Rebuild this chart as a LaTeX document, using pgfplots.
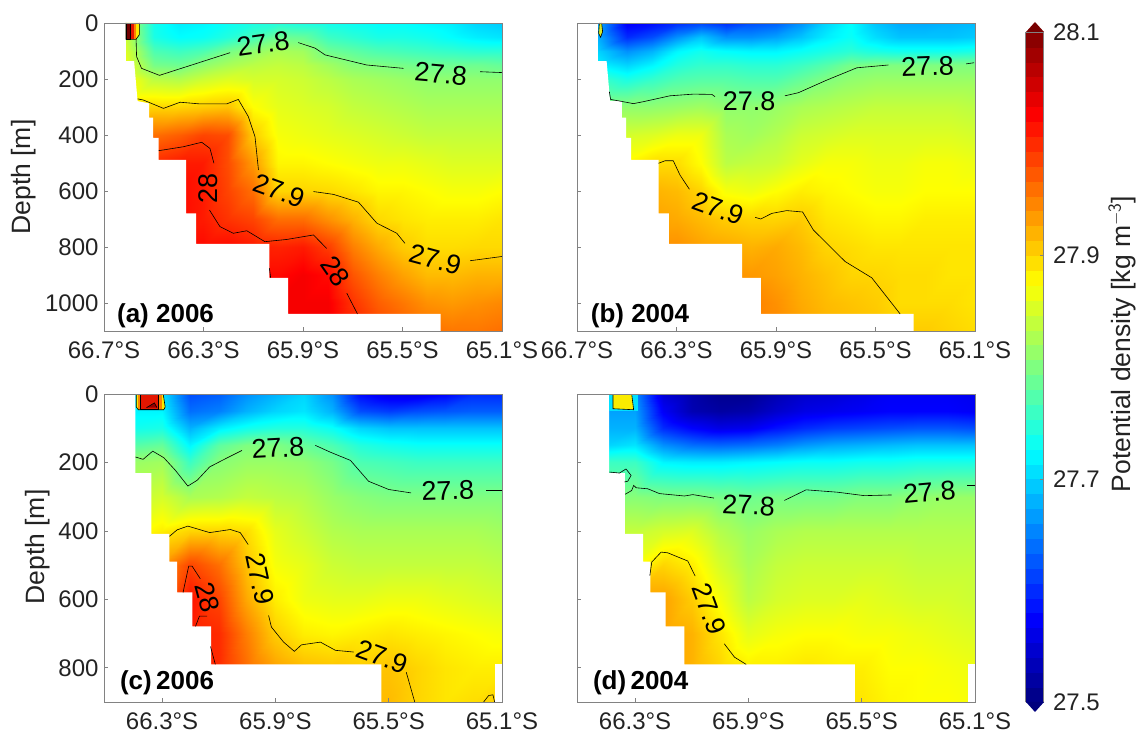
\documentclass[border=0pt]{standalone}
\usepackage{fontspec}
\setmainfont{Liberation Sans}
\usepackage{pgfplots}
\pgfplotsset{compat=1.18}
\definecolor{axgray}{RGB}{130,130,130}
\definecolor{tx}{RGB}{35,35,35}
\definecolor{ly}{RGB}{250,235,0}
\definecolor{lo}{RGB}{255,130,0}
\definecolor{lr}{RGB}{228,22,0}
\definecolor{ld}{RGB}{115,0,0}
\definecolor{ldc}{RGB}{150,0,0}
\definecolor{lg}{RGB}{215,235,40}
\definecolor{lc}{RGB}{0,225,255}
\definecolor{cbtop}{RGB}{120,0,0}
\definecolor{cbbot}{RGB}{0,0,125}
\newcommand{\fa}{\fontsize{24}{28}\selectfont}
\newcommand{\fl}{\fontsize{26.5}{30}\selectfont}
\newcommand{\fc}{\fontsize{27}{30}\selectfont}
\newcommand{\fb}{\fontsize{26}{28}\selectfont\bfseries}
\pgfplotsset{
 panel/.style={scale only axis,width=398pt,height=308pt,y dir=reverse,
  point meta min=27.5,point meta max=28.1,colormap/jet,axis on top,
  axis line style={axgray,line width=0.9pt},
  tick style={axgray,line width=0.7pt},major tick length=4pt,tick align=inside,
  xtick pos=lower,ytick pos=left,
  ticklabel style={font=\fa,text=tx},
  /pgf/number format/assume math mode=true,
  xticklabel style={yshift=-7pt},
  yticklabel style={xshift=-2pt}},
 top/.style={panel,xmin=-66.7,xmax=-65.1,ymin=0,ymax=1100,
  xtick={-66.7,-66.3,-65.9,-65.5,-65.1},
  xticklabels={66.7°S,66.3°S,65.9°S,65.5°S,65.1°S},
  ytick={0,200,400,600,800,1000}},
 bot/.style={panel,xmin=-66.505,xmax=-65.1,ymin=0,ymax=900,
  xtick={-66.3,-65.9,-65.5,-65.1},
  xticklabels={66.3°S,65.9°S,65.5°S,65.1°S},
  ytick={0,200,400,600,800}},
 field/.style={surf,shader=interp,point meta=explicit},
 mask/.style={fill=white,draw=none,forget plot},
 ct/.style={draw=black,line width=0.6pt,forget plot},
}
\begin{document}
\begin{tikzpicture}
\path[use as bounding box] (0,0) rectangle (1136pt,733pt);
% ---------- (a)
\begin{axis}[top,at={(104pt,402pt)},anchor=south west,yticklabels={0,200,400,600,800,1000}]
\addplot[field,mesh/ordering=y varies,mesh/rows=14,mesh/cols=16] table[row sep=\\,x=x,y=y,meta=z]{
x y z\\
-66.62 0 27.85\\-66.62 50 27.85\\-66.62 100 27.86\\-66.62 150 27.87\\-66.62 200 27.88\\-66.62 300 27.9\\-66.62 400 27.95\\-66.62 500 28\\-66.62 600 28\\-66.62 700 28\\-66.62 800 28\\-66.62 900 28\\-66.62 1000 28\\-66.62 1100 28\\
-66.5 0 27.735\\-66.5 50 27.74\\-66.5 100 27.77\\-66.5 150 27.795\\-66.5 200 27.835\\-66.5 300 27.9\\-66.5 400 27.96\\-66.5 500 28\\-66.5 600 28\\-66.5 700 28\\-66.5 800 28\\-66.5 900 28\\-66.5 1000 28\\-66.5 1100 28\\
-66.4 0 27.715\\-66.4 50 27.725\\-66.4 100 27.76\\-66.4 150 27.79\\-66.4 200 27.83\\-66.4 300 27.9\\-66.4 400 27.97\\-66.4 500 28.01\\-66.4 600 28.02\\-66.4 700 28.02\\-66.4 800 28.02\\-66.4 900 28.02\\-66.4 1000 28.02\\-66.4 1100 28.02\\
-66.3 0 27.72\\-66.3 50 27.73\\-66.3 100 27.77\\-66.3 150 27.81\\-66.3 200 27.845\\-66.3 300 27.905\\-66.3 400 27.985\\-66.3 500 28.01\\-66.3 600 28.01\\-66.3 700 28.01\\-66.3 800 28.02\\-66.3 900 28.02\\-66.3 1000 28.02\\-66.3 1100 28.02\\
-66.2 0 27.73\\-66.2 50 27.745\\-66.2 100 27.795\\-66.2 150 27.825\\-66.2 200 27.855\\-66.2 300 27.91\\-66.2 400 27.98\\-66.2 500 27.98\\-66.2 600 27.985\\-66.2 700 27.995\\-66.2 800 28.02\\-66.2 900 28.02\\-66.2 1000 28.02\\-66.2 1100 28.02\\
-66.1 0 27.74\\-66.1 50 27.765\\-66.1 100 27.81\\-66.1 150 27.835\\-66.1 200 27.85\\-66.1 300 27.875\\-66.1 400 27.905\\-66.1 500 27.935\\-66.1 600 27.96\\-66.1 700 27.985\\-66.1 800 28.01\\-66.1 900 28.02\\-66.1 1000 28.02\\-66.1 1100 28.02\\
-66 0 27.745\\-66 50 27.79\\-66 100 27.825\\-66 150 27.84\\-66 200 27.85\\-66 300 27.86\\-66 400 27.87\\-66 500 27.88\\-66 600 27.9\\-66 700 27.96\\-66 800 28.005\\-66 900 28.02\\-66 1000 28.03\\-66 1100 28.03\\
-65.9 0 27.74\\-65.9 50 27.785\\-65.9 100 27.82\\-65.9 150 27.835\\-65.9 200 27.845\\-65.9 300 27.855\\-65.9 400 27.865\\-65.9 500 27.88\\-65.9 600 27.9\\-65.9 700 27.96\\-65.9 800 28.01\\-65.9 900 28.03\\-65.9 1000 28.03\\-65.9 1100 28.03\\
-65.8 0 27.735\\-65.8 50 27.76\\-65.8 100 27.79\\-65.8 150 27.82\\-65.8 200 27.835\\-65.8 300 27.85\\-65.8 400 27.86\\-65.8 500 27.875\\-65.8 600 27.897\\-65.8 700 27.94\\-65.8 800 27.99\\-65.8 900 28.02\\-65.8 1000 28.03\\-65.8 1100 28.03\\
-65.7 0 27.73\\-65.7 50 27.75\\-65.7 100 27.78\\-65.7 150 27.805\\-65.7 200 27.825\\-65.7 300 27.84\\-65.7 400 27.855\\-65.7 500 27.87\\-65.7 600 27.89\\-65.7 700 27.92\\-65.7 800 27.95\\-65.7 900 27.975\\-65.7 1000 27.995\\-65.7 1100 28.01\\
-65.6 0 27.725\\-65.6 50 27.74\\-65.6 100 27.77\\-65.6 150 27.8\\-65.6 200 27.82\\-65.6 300 27.835\\-65.6 400 27.85\\-65.6 500 27.865\\-65.6 600 27.88\\-65.6 700 27.897\\-65.6 800 27.925\\-65.6 900 27.95\\-65.6 1000 27.97\\-65.6 1100 27.985\\
-65.5 0 27.725\\-65.5 50 27.74\\-65.5 100 27.765\\-65.5 150 27.795\\-65.5 200 27.815\\-65.5 300 27.83\\-65.5 400 27.845\\-65.5 500 27.865\\-65.5 600 27.88\\-65.5 700 27.89\\-65.5 800 27.905\\-65.5 900 27.93\\-65.5 1000 27.955\\-65.5 1100 27.97\\
-65.4 0 27.72\\-65.4 50 27.735\\-65.4 100 27.76\\-65.4 150 27.79\\-65.4 200 27.81\\-65.4 300 27.825\\-65.4 400 27.84\\-65.4 500 27.86\\-65.4 600 27.875\\-65.4 700 27.885\\-65.4 800 27.895\\-65.4 900 27.915\\-65.4 1000 27.94\\-65.4 1100 27.96\\
-65.3 0 27.715\\-65.3 50 27.725\\-65.3 100 27.755\\-65.3 150 27.79\\-65.3 200 27.81\\-65.3 300 27.825\\-65.3 400 27.84\\-65.3 500 27.855\\-65.3 600 27.87\\-65.3 700 27.885\\-65.3 800 27.895\\-65.3 900 27.915\\-65.3 1000 27.935\\-65.3 1100 27.955\\
-65.2 0 27.7\\-65.2 50 27.715\\-65.2 100 27.75\\-65.2 150 27.79\\-65.2 200 27.81\\-65.2 300 27.825\\-65.2 400 27.84\\-65.2 500 27.855\\-65.2 600 27.87\\-65.2 700 27.885\\-65.2 800 27.897\\-65.2 900 27.92\\-65.2 1000 27.94\\-65.2 1100 27.955\\
-65.1 0 27.695\\-65.1 50 27.71\\-65.1 100 27.75\\-65.1 150 27.785\\-65.1 200 27.81\\-65.1 300 27.825\\-65.1 400 27.84\\-65.1 500 27.855\\-65.1 600 27.875\\-65.1 700 27.89\\-65.1 800 27.897\\-65.1 900 27.92\\-65.1 1000 27.945\\-65.1 1100 27.96\\
};
\addplot[mask] coordinates {(-66.7,0)(-66.612,0)(-66.612,136)(-66.579,136)(-66.565,279)(-66.519,287)(-66.519,338)(-66.503,338)(-66.503,410)(-66.48,410)(-66.48,489)(-66.37,489)(-66.37,680)(-66.33,680)(-66.33,789)(-66.035,789)(-66.035,910)(-65.96,910)(-65.96,1039)(-65.347,1039)(-65.347,1100)(-66.7,1100)};
\addplot[fill=ly,ct] coordinates {(-66.612,0)(-66.612,58)(-66.571,58)(-66.558,42)(-66.558,0)};
\addplot[fill=lo,draw=none,forget plot] coordinates {(-66.612,0)(-66.612,58)(-66.571,58)(-66.571,0)};
\addplot[fill=lr,draw=none,forget plot] coordinates {(-66.612,0)(-66.612,58)(-66.579,58)(-66.579,0)};
\addplot[fill=ld,ct] coordinates {(-66.612,0)(-66.612,58)(-66.593,58)(-66.593,0)};
\addplot[ct] coordinates {(-66.571,58)(-66.569,120)(-66.549,162)(-66.477,187)(-66.193,106)};
\addplot[ct] coordinates {(-65.919,70)(-65.851,90)(-65.811,114)(-65.644,150)(-65.496,162)};
\addplot[ct] coordinates {(-65.188,174)(-65.101,177)};
\addplot[ct] coordinates {(-66.565,271)(-66.542,275)(-66.461,305)(-66.394,283)(-66.314,289)(-66.207,289)(-66.16,273)(-66.12,334)(-66.093,406)(-66.079,525)};
\addplot[ct] coordinates {(-65.858,602)(-65.778,612)(-65.677,640)(-65.603,715)(-65.523,751)(-65.49,787)};
\addplot[ct] coordinates {(-65.228,849)(-65.101,834)};
\addplot[ct] coordinates {(-66.48,456)(-66.381,442)(-66.307,426)(-66.274,448)(-66.258,501)};
\addplot[ct] coordinates {(-66.276,668)(-66.234,727)(-66.18,751)(-66.126,742)(-66.053,781)(-65.965,773)(-65.858,757)(-65.805,805)};
\addplot[ct] coordinates {(-65.724,965)(-65.681,1039)};
\addplot[ct] coordinates {(-66.035,876)(-66.03,910)};
\node[font=\fc,rotate=8] at (axis cs:-66.06,73) {27.8};
\node[font=\fc,rotate=-5] at (axis cs:-65.346,182) {27.8};
\node[font=\fc,rotate=-20] at (axis cs:-65.995,599) {27.9};
\node[font=\fc,rotate=-15] at (axis cs:-65.369,844) {27.9};
\node[font=\fc,rotate=90] at (axis cs:-66.28,590) {28};
\node[font=\fc,rotate=-55] at (axis cs:-65.77,888) {28};
\node[font=\fb,anchor=west,inner sep=0pt] at (axis cs:-66.648,1046) {(a) 2006};
\end{axis}
% ---------- (b)
\begin{axis}[top,at={(577pt,402pt)},anchor=south west,yticklabels={}]
\addplot[field,mesh/rows=14,mesh/cols=16] table[row sep=\\,x=x,y=y,meta=z]{
x y z\\
-66.62 0 27.68\\-66.5 0 27.57\\-66.4 0 27.58\\-66.3 0 27.6\\-66.2 0 27.615\\-66.1 0 27.6\\-66 0 27.62\\-65.9 0 27.63\\-65.8 0 27.66\\-65.7 0 27.7\\-65.6 0 27.725\\-65.5 0 27.69\\-65.4 0 27.675\\-65.3 0 27.675\\-65.2 0 27.68\\-65.1 0 27.685\\
-66.62 50 27.68\\-66.5 50 27.6\\-66.4 50 27.62\\-66.3 50 27.66\\-66.2 50 27.69\\-66.1 50 27.66\\-66 50 27.66\\-65.9 50 27.67\\-65.8 50 27.69\\-65.7 50 27.715\\-65.6 50 27.73\\-65.5 50 27.705\\-65.4 50 27.69\\-65.3 50 27.69\\-65.2 50 27.69\\-65.1 50 27.695\\
-66.62 100 27.7\\-66.5 100 27.66\\-66.4 100 27.68\\-66.3 100 27.72\\-66.2 100 27.735\\-66.1 100 27.725\\-66 100 27.72\\-65.9 100 27.72\\-65.8 100 27.73\\-65.7 100 27.74\\-65.6 100 27.75\\-65.5 100 27.74\\-65.4 100 27.735\\-65.3 100 27.735\\-65.2 100 27.735\\-65.1 100 27.74\\
-66.62 150 27.72\\-66.5 150 27.7\\-66.4 150 27.72\\-66.3 150 27.745\\-66.2 150 27.755\\-66.1 150 27.755\\-66 150 27.75\\-65.9 150 27.75\\-65.8 150 27.76\\-65.7 150 27.775\\-65.6 150 27.795\\-65.5 150 27.8\\-65.4 150 27.8\\-65.3 150 27.8\\-65.2 150 27.8\\-65.1 150 27.8\\
-66.62 200 27.76\\-66.5 200 27.74\\-66.4 200 27.755\\-66.3 200 27.77\\-66.2 200 27.775\\-66.1 200 27.775\\-66 200 27.77\\-65.9 200 27.77\\-65.8 200 27.785\\-65.7 200 27.8\\-65.6 200 27.81\\-65.5 200 27.815\\-65.4 200 27.815\\-65.3 200 27.815\\-65.2 200 27.815\\-65.1 200 27.815\\
-66.62 300 27.81\\-66.5 300 27.81\\-66.4 300 27.81\\-66.3 300 27.815\\-66.2 300 27.82\\-66.1 300 27.81\\-66 300 27.81\\-65.9 300 27.815\\-65.8 300 27.825\\-65.7 300 27.83\\-65.6 300 27.835\\-65.5 300 27.84\\-65.4 300 27.84\\-65.3 300 27.84\\-65.2 300 27.84\\-65.1 300 27.835\\
-66.62 400 27.85\\-66.5 400 27.85\\-66.4 400 27.855\\-66.3 400 27.865\\-66.2 400 27.865\\-66.1 400 27.825\\-66 400 27.82\\-65.9 400 27.83\\-65.8 400 27.845\\-65.7 400 27.85\\-65.6 400 27.855\\-65.5 400 27.855\\-65.4 400 27.855\\-65.3 400 27.855\\-65.2 400 27.855\\-65.1 400 27.85\\
-66.62 500 27.88\\-66.5 500 27.88\\-66.4 500 27.895\\-66.3 500 27.895\\-66.2 500 27.875\\-66.1 500 27.835\\-66 500 27.84\\-65.9 500 27.845\\-65.8 500 27.86\\-65.7 500 27.87\\-65.6 500 27.87\\-65.5 500 27.865\\-65.4 500 27.865\\-65.3 500 27.87\\-65.2 500 27.87\\-65.1 500 27.865\\
-66.62 600 27.92\\-66.5 600 27.92\\-66.4 600 27.92\\-66.3 600 27.915\\-66.2 600 27.9\\-66.1 600 27.87\\-66 600 27.865\\-65.9 600 27.875\\-65.8 600 27.885\\-65.7 600 27.88\\-65.6 600 27.875\\-65.5 600 27.87\\-65.4 600 27.87\\-65.3 600 27.875\\-65.2 600 27.875\\-65.1 600 27.875\\
-66.62 700 27.93\\-66.5 700 27.93\\-66.4 700 27.93\\-66.3 700 27.925\\-66.2 700 27.915\\-66.1 700 27.905\\-66 700 27.9\\-65.9 700 27.9\\-65.8 700 27.905\\-65.7 700 27.89\\-65.6 700 27.885\\-65.5 700 27.88\\-65.4 700 27.88\\-65.3 700 27.885\\-65.2 700 27.885\\-65.1 700 27.885\\
-66.62 800 27.94\\-66.5 800 27.94\\-66.4 800 27.94\\-66.3 800 27.94\\-66.2 800 27.93\\-66.1 800 27.925\\-66 800 27.92\\-65.9 800 27.925\\-65.8 800 27.915\\-65.7 800 27.9\\-65.6 800 27.895\\-65.5 800 27.89\\-65.4 800 27.89\\-65.3 800 27.89\\-65.2 800 27.89\\-65.1 800 27.89\\
-66.62 900 27.94\\-66.5 900 27.94\\-66.4 900 27.94\\-66.3 900 27.94\\-66.2 900 27.94\\-66.1 900 27.94\\-66 900 27.935\\-65.9 900 27.93\\-65.8 900 27.92\\-65.7 900 27.91\\-65.6 900 27.9\\-65.5 900 27.899\\-65.4 900 27.895\\-65.3 900 27.895\\-65.2 900 27.89\\-65.1 900 27.89\\
-66.62 1000 27.95\\-66.5 1000 27.95\\-66.4 1000 27.95\\-66.3 1000 27.95\\-66.2 1000 27.95\\-66.1 1000 27.95\\-66 1000 27.95\\-65.9 1000 27.94\\-65.8 1000 27.925\\-65.7 1000 27.915\\-65.6 1000 27.91\\-65.5 1000 27.905\\-65.4 1000 27.895\\-65.3 1000 27.895\\-65.2 1000 27.895\\-65.1 1000 27.89\\
-66.62 1100 27.95\\-66.5 1100 27.95\\-66.4 1100 27.95\\-66.3 1100 27.95\\-66.2 1100 27.95\\-66.1 1100 27.95\\-66 1100 27.95\\-65.9 1100 27.945\\-65.8 1100 27.93\\-65.7 1100 27.92\\-65.6 1100 27.915\\-65.5 1100 27.91\\-65.4 1100 27.905\\-65.3 1100 27.905\\-65.2 1100 27.9\\-65.1 1100 27.895\\
};
\addplot[mask] coordinates {(-66.7,0)(-66.616,0)(-66.616,136)(-66.581,136)(-66.567,279)(-66.52,279)(-66.52,338)(-66.503,338)(-66.503,410)(-66.482,410)(-66.482,489)(-66.372,489)(-66.372,680)(-66.331,680)(-66.331,789)(-66.036,789)(-66.036,910)(-65.961,910)(-65.961,1039)(-65.347,1039)(-65.347,1100)(-66.7,1100)};
\addplot[fill=lg,ct] coordinates {(-66.61,0)(-66.613,37)(-66.605,51)(-66.597,31)(-66.601,0)};
\addplot[ct] coordinates {(-66.57,245)(-66.565,273)(-66.527,279)(-66.473,288)(-66.433,281)(-66.326,260)(-66.232,254)(-66.158,255)(-66.145,263)};
\addplot[ct] coordinates {(-65.864,260)(-65.81,249)(-65.696,204)(-65.575,160)(-65.448,150)};
\addplot[ct] coordinates {(-65.136,146)(-65.104,142)};
\addplot[ct] coordinates {(-66.372,501)(-66.346,492)(-66.313,492)(-66.286,543)(-66.248,594)};
\addplot[ct] coordinates {(-65.984,694)(-65.961,700)(-65.917,680)(-65.857,670)(-65.793,675)(-65.75,739)(-65.689,793)(-65.622,852)(-65.515,910)(-65.401,1039)};
\node[font=\fc] at (axis cs:-66.008,279) {27.8};
\node[font=\fc,rotate=2] at (axis cs:-65.291,154) {27.8};
\node[font=\fc,rotate=-20] at (axis cs:-66.132,662) {27.9};
\node[font=\fb,anchor=west,inner sep=0pt] at (axis cs:-66.645,1046) {(b) 2004};
\end{axis}
% ---------- (c)
\begin{axis}[bot,at={(104pt,31pt)},anchor=south west,yticklabels={0,200,400,600,800}]
\addplot[field,mesh/rows=12,mesh/cols=14] table[row sep=\\,x=x,y=y,meta=z]{
x y z\\
-66.4 0 27.72\\-66.3 0 27.71\\-66.2 0 27.62\\-66.1 0 27.63\\-66 0 27.66\\-65.9 0 27.68\\-65.8 0 27.7\\-65.7 0 27.66\\-65.6 0 27.58\\-65.5 0 27.56\\-65.4 0 27.56\\-65.3 0 27.575\\-65.2 0 27.6\\-65.1 0 27.6\\
-66.4 50 27.72\\-66.3 50 27.72\\-66.2 50 27.64\\-66.1 50 27.65\\-66 50 27.68\\-65.9 50 27.7\\-65.8 50 27.71\\-65.7 50 27.68\\-65.6 50 27.62\\-65.5 50 27.61\\-65.4 50 27.62\\-65.3 50 27.625\\-65.2 50 27.63\\-65.1 50 27.63\\
-66.4 100 27.735\\-66.3 100 27.74\\-66.2 100 27.68\\-66.1 100 27.715\\-66 100 27.735\\-65.9 100 27.745\\-65.8 100 27.745\\-65.7 100 27.73\\-65.6 100 27.7\\-65.5 100 27.69\\-65.4 100 27.69\\-65.3 100 27.69\\-65.2 100 27.69\\-65.1 100 27.69\\
-66.4 150 27.775\\-66.3 150 27.785\\-66.2 150 27.72\\-66.1 150 27.78\\-66 150 27.8\\-65.9 150 27.8\\-65.8 150 27.785\\-65.7 150 27.77\\-65.6 150 27.745\\-65.5 150 27.735\\-65.4 150 27.73\\-65.3 150 27.73\\-65.2 150 27.73\\-65.1 150 27.73\\
-66.4 200 27.815\\-66.3 200 27.82\\-66.2 200 27.76\\-66.1 200 27.805\\-66 200 27.815\\-65.9 200 27.815\\-65.8 200 27.81\\-65.7 200 27.795\\-65.6 200 27.77\\-65.5 200 27.765\\-65.4 200 27.76\\-65.3 200 27.76\\-65.2 200 27.76\\-65.1 200 27.76\\
-66.4 300 27.84\\-66.3 300 27.85\\-66.2 300 27.825\\-66.1 300 27.83\\-66 300 27.84\\-65.9 300 27.835\\-65.8 300 27.83\\-65.7 300 27.815\\-65.6 300 27.805\\-65.5 300 27.8\\-65.4 300 27.8\\-65.3 300 27.8\\-65.2 300 27.8\\-65.1 300 27.8\\
-66.4 400 27.87\\-66.3 400 27.885\\-66.2 400 27.9\\-66.1 400 27.9\\-66 400 27.895\\-65.9 400 27.86\\-65.8 400 27.845\\-65.7 400 27.83\\-65.6 400 27.825\\-65.5 400 27.825\\-65.4 400 27.825\\-65.3 400 27.825\\-65.2 400 27.825\\-65.1 400 27.82\\
-66.4 500 27.94\\-66.3 500 27.94\\-66.2 500 27.985\\-66.1 500 27.96\\-66 500 27.91\\-65.9 500 27.87\\-65.8 500 27.86\\-65.7 500 27.845\\-65.6 500 27.84\\-65.5 500 27.84\\-65.4 500 27.84\\-65.3 500 27.84\\-65.2 500 27.84\\-65.1 500 27.835\\
-66.4 600 27.96\\-66.3 600 27.96\\-66.2 600 28.015\\-66.1 600 27.985\\-66 600 27.925\\-65.9 600 27.885\\-65.8 600 27.865\\-65.7 600 27.86\\-65.6 600 27.86\\-65.5 600 27.865\\-65.4 600 27.865\\-65.3 600 27.86\\-65.2 600 27.855\\-65.1 600 27.85\\
-66.4 700 28\\-66.3 700 28\\-66.2 700 28.01\\-66.1 700 28\\-66 700 27.95\\-65.9 700 27.905\\-65.8 700 27.885\\-65.7 700 27.88\\-65.6 700 27.885\\-65.5 700 27.89\\-65.4 700 27.885\\-65.3 700 27.88\\-65.2 700 27.875\\-65.1 700 27.87\\
-66.4 800 28\\-66.3 800 28\\-66.2 800 28.01\\-66.1 800 28\\-66 800 27.96\\-65.9 800 27.93\\-65.8 800 27.915\\-65.7 800 27.91\\-65.6 800 27.905\\-65.5 800 27.91\\-65.4 800 27.9\\-65.3 800 27.89\\-65.2 800 27.885\\-65.1 800 27.885\\
-66.4 900 28\\-66.3 900 28\\-66.2 900 28\\-66.1 900 28\\-66 900 27.96\\-65.9 900 27.93\\-65.8 900 27.92\\-65.7 900 27.915\\-65.6 900 27.915\\-65.5 900 27.915\\-65.4 900 27.9\\-65.3 900 27.89\\-65.2 900 27.895\\-65.1 900 27.905\\
};
\addplot[mask] coordinates {(-66.505,0)(-66.394,0)(-66.394,231)(-66.338,231)(-66.338,409)(-66.274,409)(-66.274,490)(-66.247,490)(-66.247,580)(-66.193,580)(-66.193,679)(-66.127,679)(-66.127,790)(-65.526,790)(-65.526,900)(-66.505,900)};
\addplot[mask] coordinates {(-65.126,900)(-65.126,790)(-65.1,790)(-65.1,900)};
\addplot[fill=ly,ct] coordinates {(-66.391,0)(-66.391,38)(-66.384,46)(-66.294,46)(-66.289,38)(-66.296,0)};
\addplot[fill=lo,draw=none,forget plot] coordinates {(-66.386,0)(-66.386,44)(-66.301,44)(-66.301,0)};
\addplot[fill=lr,ct] coordinates {(-66.376,0)(-66.376,44)(-66.314,44)(-66.314,0)};
\addplot[fill=ldc,ct] coordinates {(-66.355,40)(-66.327,26)(-66.318,40)};
\addplot[ct] coordinates {(-66.394,184)(-66.367,191)(-66.333,167)(-66.294,186)(-66.253,223)(-66.209,269)(-66.176,252)(-66.132,213)(-66.076,189)(-66.018,165)};
\addplot[ct] coordinates {(-65.759,150)(-65.706,170)(-65.635,194)(-65.571,255)(-65.5,279)(-65.421,289)};
\addplot[ct] coordinates {(-65.155,280)(-65.1,280)};
\addplot[ct] coordinates {(-66.274,416)(-66.247,397)(-66.209,386)(-66.132,405)(-66.059,396)(-66.024,405)(-65.996,440)};
\addplot[ct] coordinates {(-65.924,647)(-65.914,681)(-65.871,725)(-65.833,752)(-65.808,733)(-65.741,725)(-65.688,749)(-65.624,754)};
\addplot[ct] coordinates {(-65.438,813)(-65.408,900)};
\addplot[ct] coordinates {(-65.165,900)(-65.147,881)(-65.132,879)(-65.126,900)};
\addplot[ct] coordinates {(-66.226,580)(-66.206,503)(-66.194,503)(-66.165,540)};
\addplot[ct] coordinates {(-66.182,679)(-66.168,649)(-66.141,649)};
\addplot[ct] coordinates {(-66.129,738)(-66.112,790)};
\node[font=\fc,rotate=3] at (axis cs:-65.891,158) {27.8};
\node[font=\fc,rotate=2] at (axis cs:-65.291,282) {27.8};
\node[font=\fc,rotate=-78] at (axis cs:-65.955,540) {27.9};
\node[font=\fc,rotate=-20] at (axis cs:-65.524,767) {27.9};
\node[font=\fc,rotate=-75] at (axis cs:-66.141,594) {28};
\node[font=\fb,anchor=west,inner sep=0pt] at (axis cs:-66.449,845) {(c)\,2006};
\end{axis}
% ---------- (d)
\begin{axis}[bot,at={(577pt,31pt)},anchor=south west,yticklabels={},
 colorbar sampled,
 colorbar style={samples=46,at={(parent axis.south east)},anchor=south west,xshift=42pt,
  width=18pt,height=670pt,ytick={27.5,27.7,27.9,28.1},yticklabels={27.5,27.7,27.9,28.1},
  ytick pos=right,yticklabel pos=right,
  axis line style={axgray,line width=0.5pt},tick style={axgray},major tick length=4pt,
  tick align=inside,
  yticklabel style={font=\fa,text=tx,xshift=6pt}}]
\addplot[field,mesh/rows=12,mesh/cols=14] table[row sep=\\,x=x,y=y,meta=z]{
x y z\\
-66.4 0 27.68\\-66.3 0 27.66\\-66.2 0 27.55\\-66.1 0 27.525\\-66 0 27.51\\-65.9 0 27.51\\-65.8 0 27.53\\-65.7 0 27.545\\-65.6 0 27.55\\-65.5 0 27.56\\-65.4 0 27.57\\-65.3 0 27.57\\-65.2 0 27.57\\-65.1 0 27.565\\
-66.4 50 27.67\\-66.3 50 27.67\\-66.2 50 27.57\\-66.1 50 27.53\\-66 50 27.52\\-65.9 50 27.525\\-65.8 50 27.545\\-65.7 50 27.56\\-65.6 50 27.565\\-65.5 50 27.57\\-65.4 50 27.575\\-65.3 50 27.575\\-65.2 50 27.575\\-65.1 50 27.57\\
-66.4 100 27.68\\-66.3 100 27.68\\-66.2 100 27.6\\-66.1 100 27.575\\-66 100 27.56\\-65.9 100 27.565\\-65.8 100 27.585\\-65.7 100 27.6\\-65.6 100 27.61\\-65.5 100 27.615\\-65.4 100 27.62\\-65.3 100 27.625\\-65.2 100 27.625\\-65.1 100 27.62\\
-66.4 150 27.7\\-66.3 150 27.71\\-66.2 150 27.66\\-66.1 150 27.64\\-66 150 27.635\\-65.9 150 27.64\\-65.8 150 27.65\\-65.7 150 27.665\\-65.6 150 27.675\\-65.5 150 27.68\\-65.4 150 27.685\\-65.3 150 27.69\\-65.2 150 27.69\\-65.1 150 27.69\\
-66.4 200 27.76\\-66.3 200 27.76\\-66.2 200 27.72\\-66.1 200 27.715\\-66 200 27.715\\-65.9 200 27.72\\-65.8 200 27.725\\-65.7 200 27.73\\-65.6 200 27.73\\-65.5 200 27.735\\-65.4 200 27.735\\-65.3 200 27.74\\-65.2 200 27.74\\-65.1 200 27.74\\
-66.4 300 27.8\\-66.3 300 27.805\\-66.2 300 27.8\\-66.1 300 27.8\\-66 300 27.795\\-65.9 300 27.79\\-65.8 300 27.795\\-65.7 300 27.795\\-65.6 300 27.795\\-65.5 300 27.802\\-65.4 300 27.802\\-65.3 300 27.81\\-65.2 300 27.815\\-65.1 300 27.815\\
-66.4 400 27.84\\-66.3 400 27.84\\-66.2 400 27.85\\-66.1 400 27.855\\-66 400 27.83\\-65.9 400 27.815\\-65.8 400 27.825\\-65.7 400 27.83\\-65.6 400 27.83\\-65.5 400 27.83\\-65.4 400 27.83\\-65.3 400 27.83\\-65.2 400 27.83\\-65.1 400 27.83\\
-66.4 500 27.87\\-66.3 500 27.87\\-66.2 500 27.9\\-66.1 500 27.885\\-66 500 27.85\\-65.9 500 27.825\\-65.8 500 27.84\\-65.7 500 27.845\\-65.6 500 27.845\\-65.5 500 27.845\\-65.4 500 27.845\\-65.3 500 27.84\\-65.2 500 27.84\\-65.1 500 27.84\\
-66.4 600 27.93\\-66.3 600 27.93\\-66.2 600 27.93\\-66.1 600 27.905\\-66 600 27.87\\-65.9 600 27.835\\-65.8 600 27.85\\-65.7 600 27.855\\-65.6 600 27.855\\-65.5 600 27.86\\-65.4 600 27.855\\-65.3 600 27.85\\-65.2 600 27.85\\-65.1 600 27.845\\
-66.4 700 27.93\\-66.3 700 27.93\\-66.2 700 27.93\\-66.1 700 27.92\\-66 700 27.89\\-65.9 700 27.86\\-65.8 700 27.87\\-65.7 700 27.875\\-65.6 700 27.875\\-65.5 700 27.87\\-65.4 700 27.87\\-65.3 700 27.865\\-65.2 700 27.86\\-65.1 700 27.855\\
-66.4 800 27.93\\-66.3 800 27.93\\-66.2 800 27.93\\-66.1 800 27.92\\-66 800 27.9\\-65.9 800 27.885\\-65.8 800 27.885\\-65.7 800 27.89\\-65.6 800 27.885\\-65.5 800 27.885\\-65.4 800 27.875\\-65.3 800 27.875\\-65.2 800 27.87\\-65.1 800 27.865\\
-66.4 900 27.93\\-66.3 900 27.93\\-66.2 900 27.93\\-66.1 900 27.92\\-66 900 27.9\\-65.9 900 27.89\\-65.8 900 27.89\\-65.7 900 27.89\\-65.6 900 27.89\\-65.5 900 27.89\\-65.4 900 27.88\\-65.3 900 27.875\\-65.2 900 27.875\\-65.1 900 27.87\\
};
\addplot[mask] coordinates {(-66.505,0)(-66.392,0)(-66.392,231)(-66.336,231)(-66.336,409)(-66.272,409)(-66.272,490)(-66.246,490)(-66.246,580)(-66.192,580)(-66.192,679)(-66.126,679)(-66.126,790)(-65.524,790)(-65.524,900)(-66.505,900)};
\addplot[mask] coordinates {(-65.124,900)(-65.124,790)(-65.1,790)(-65.1,900)};
\addplot[fill=lc,draw=none,forget plot] coordinates {(-66.392,0)(-66.392,50)(-66.288,50)(-66.288,0)};
\addplot[fill=ly,ct] coordinates {(-66.378,0)(-66.378,43)(-66.305,46)(-66.312,0)};
\addplot[ct] coordinates {(-66.391,228)(-66.355,231)(-66.332,219)(-66.314,238)(-66.326,255)(-66.338,257)};
\addplot[ct] coordinates {(-66.335,293)(-66.312,282)(-66.305,267)(-66.296,274)(-66.255,277)(-66.214,291)(-66.126,298)(-66.096,294)(-66.022,304)};
\addplot[ct] coordinates {(-65.773,311)(-65.696,280)(-65.585,287)(-65.491,297)(-65.394,295)};
\addplot[ct] coordinates {(-65.128,268)(-65.099,268)};
\addplot[ct] coordinates {(-66.248,531)(-66.241,491)(-66.208,462)(-66.185,464)(-66.114,488)(-66.088,532)};
\addplot[ct] coordinates {(-65.985,730)(-65.949,769)(-65.908,790)};
\node[font=\fc,rotate=-3] at (axis cs:-65.899,325) {27.8};
\node[font=\fc,rotate=5] at (axis cs:-65.261,287) {27.8};
\node[font=\fc,rotate=-70] at (axis cs:-66.038,628) {27.9};
\node[font=\fb,anchor=west,inner sep=0pt] at (axis cs:-66.449,845) {(d)\,2004};
\end{axis}
% labels and colourbar ends
\node[rotate=90,font=\fl,text=tx] at (24pt,556pt) {Depth [m]};
\node[rotate=90,font=\fl,text=tx] at (38pt,186pt) {Depth [m]};
\node[rotate=90,font=\fl,text=tx] at (1122pt,389pt) {Potential density [kg m$^{\mathsf{-3}}$]};
\fill[cbtop] (1026pt,701pt) -- (1035pt,711pt) -- (1044pt,701pt) -- cycle;
\fill[cbbot] (1026pt,31pt) -- (1035pt,21pt) -- (1044pt,31pt) -- cycle;
\end{tikzpicture}
\end{document}
